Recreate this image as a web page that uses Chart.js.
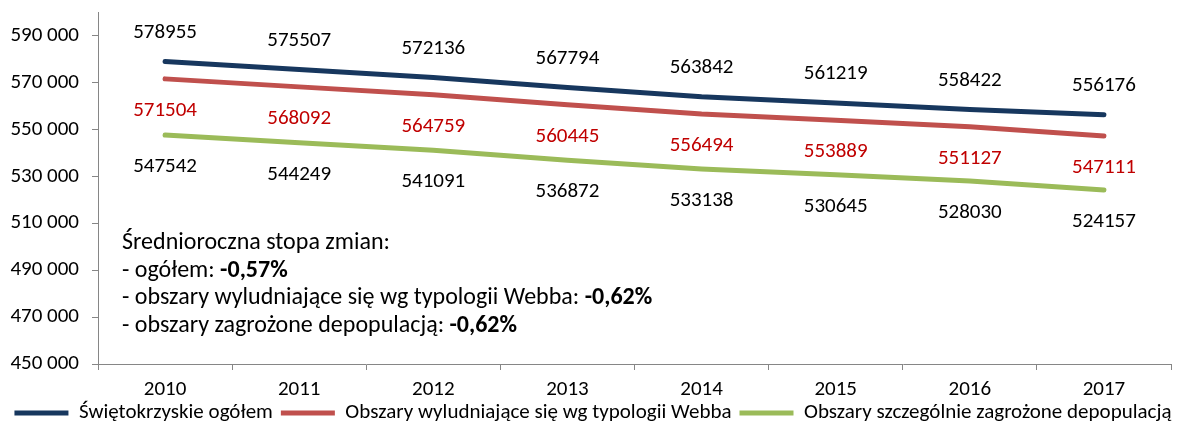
<!DOCTYPE html>
<html>
<head>
<meta charset="utf-8">
<script src="https://cdn.jsdelivr.net/npm/chart.js@4"></script>
<style>
html,body{margin:0;padding:0;background:#fff;}
#wrap{width:1186px;height:423px;position:relative;}
</style>
</head>
<body>
<div id="wrap"><canvas id="c" width="1186" height="423"></canvas></div>
<script>
const years = ['2010','2011','2012','2013','2014','2015','2016','2017'];
const swietokrzyskie = [578955,575507,572136,567794,563842,561219,558422,556176];
const webba = [571504,568092,564759,560445,556494,553889,551127,547111];
const zagrozone = [547542,544249,541091,536872,533138,530645,528030,524157];
const seriesNames = ['Świętokrzyskie ogółem','Obszary wyludniające się wg typologii Webba','Obszary szczególnie zagrożone depopulacją'];
const yTickValues = [450000,470000,490000,510000,530000,550000,570000,590000];
const noteLines = [
  [['Średnioroczna stopa zmian:', false]],
  [['- ogółem: ', false], ['-0,57%', true]],
  [['- obszary wyludniające się wg typologii Webba: ', false], ['-0,62%', true]],
  [['- obszary zagrożone depopulacją: ', false], ['-0,62%', true]]
];
const yMin = 450000, yMax = 600000;

const FONT = 'Carlito, Lato, "Open Sans", sans-serif';
const colors = ['#17375E', '#C0504D', '#9BBB59'];
const labelColors = ['#000000', '#C00000', '#000000'];
const labelOffsets = [-29, 32, 32];

const labelsPlugin = {
  id: 'valueLabels',
  afterUpdate(chart) {
    const L = chart.legend;
    if (L) {
      const d = 414 - (L.top + L.bottom) / 2;
      L.top += d; L.bottom += d;
    }
  },
  afterDatasetsDraw(chart) {
    const ctx = chart.ctx;
    ctx.save();
    ctx.font = '21px ' + FONT;
    ctx.textAlign = 'center';
    ctx.textBaseline = 'middle';
    chart.data.datasets.forEach((ds, di) => {
      const meta = chart.getDatasetMeta(di);
      meta.data.forEach((pt, i) => {
        ctx.fillStyle = labelColors[di];
        ctx.fillText(String(ds.data[i]), pt.x, pt.y + labelOffsets[di]);
      });
    });
    const a = chart.chartArea;
    const x0 = a.left + 24;
    const ys = [243, 270.5, 298, 326];
    ctx.textAlign = 'left';
    ctx.fillStyle = '#000';
    noteLines.forEach((parts, li) => {
      let x = x0;
      parts.forEach(([t, b]) => {
        ctx.font = (b ? 'bold ' : '') + '24px ' + FONT;
        ctx.fillText(t, x, ys[li]);
        x += ctx.measureText(t).width;
      });
    });
    ctx.restore();
  }
};

new Chart(document.getElementById('c'), {
  type: 'line',
  data: {
    labels: years,
    datasets: [
      {label: seriesNames[0], data: swietokrzyskie, borderColor: colors[0], backgroundColor: colors[0], borderWidth: 5, pointRadius: 0, borderCapStyle: 'round', tension: 0},
      {label: seriesNames[1], data: webba, borderColor: colors[1], backgroundColor: colors[1], borderWidth: 5, pointRadius: 0, borderCapStyle: 'round', tension: 0},
      {label: seriesNames[2], data: zagrozone, borderColor: colors[2], backgroundColor: colors[2], borderWidth: 5, pointRadius: 0, borderCapStyle: 'round', tension: 0}
    ]
  },
  options: {
    responsive: false,
    animation: false,
    devicePixelRatio: 1,
    layout: {padding: {top: 12, right: 0, left: 0, bottom: -18}},
    plugins: {
      tooltip: {enabled: false},
      legend: {
        position: 'bottom',
        labels: {
          font: {family: FONT, size: 21},
          color: '#000',
          boxWidth: 54,
          boxHeight: 5,
          padding: 8,
          generateLabels(chart) {
            return chart.data.datasets.map((ds, i) => ({
              text: ds.label, fillStyle: ds.borderColor, strokeStyle: ds.borderColor,
              lineWidth: 0, hidden: false, datasetIndex: i, fontColor: '#000'
            }));
          }
        }
      }
    },
    scales: {
      x: {
        offset: true,
        grid: {offset: true, drawOnChartArea: false, drawTicks: true, tickLength: 6, color: '#868686'},
        border: {color: '#868686', width: 1},
        ticks: {font: {family: FONT, size: 21}, color: '#000', padding: 7, maxRotation: 0},
        afterFit(s) { s.height = 38; s.paddingRight = 15; s.paddingLeft = 0; }
      },
      y: {
        min: yMin, max: yMax,
        grid: {drawOnChartArea: false, drawTicks: true, tickLength: 6, color: '#868686'},
        border: {color: '#868686', width: 1},
        ticks: {
          font: {family: FONT, size: 21}, color: '#000', padding: 13,
          callback: v => String(v).replace(/\B(?=(\d{3})+(?!\d))/g, ' ')
        },
        afterBuildTicks(s) { s.ticks = yTickValues.map(v => ({value: v})); },
        afterFit(s) { s.width = 98; s.paddingTop = 0; s.paddingBottom = 0; }
      }
    }
  },
  plugins: [labelsPlugin]
});
</script>
</body>
</html>
